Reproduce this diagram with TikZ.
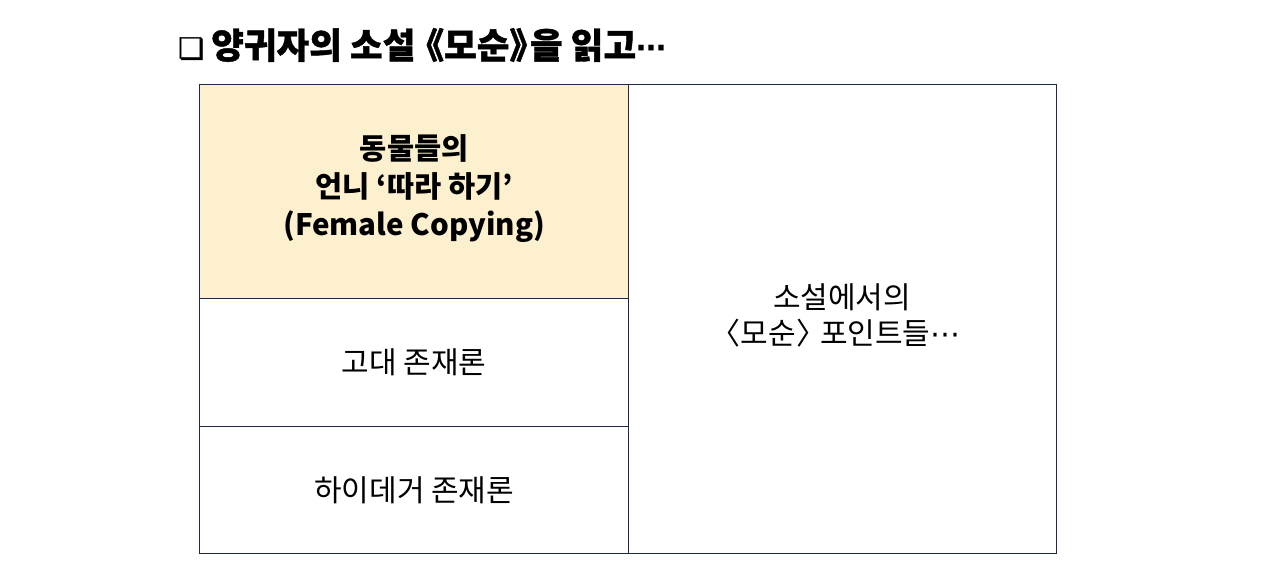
\documentclass[tikz,border=0pt]{standalone}
\usepackage{fontspec}
\usetikzlibrary{calc}
\newfontfamily\kr{Noto Sans CJK KR}
\newfontfamily\krh[BoldFeatures={FakeBold=1.2}]{Noto Sans CJK KR}
\newfontfamily\dv{DejaVu Sans}
\newfontfamily\dvh[FakeBold=1.5]{DejaVu Sans}
\newcommand\lbk{\kern-0.42em}
\definecolor{edge}{HTML}{1F2846}
\definecolor{pale}{HTML}{FCF0CF}
\tikzset{
  cell/.style={draw=edge, line width=1.4pt, minimum width=429pt, inner sep=0pt, anchor=north west},
  body/.style={font=\kr\fontsize{30}{36}\selectfont, align=center, text=black},
  boldbody/.style={font=\kr\bfseries\fontsize{29.5}{38}\selectfont, align=center, text=black},
}
\begin{document}
\begin{tikzpicture}[x=1pt,y=-1pt]
\useasboundingbox (0,0) rectangle (1280,577);
\node[anchor=west, inner sep=0pt] (title) at (178,45) {\dvh\fontsize{29}{29}\selectfont ❏\krh\bfseries\fontsize{35.5}{34}\selectfont\kern-1pt\ 양귀자의 소설 \lbk《모순》\lbk 을 읽고\dv\bfseries\fontsize{30}{30}\selectfont ⋯};
\node[cell, fill=pale, minimum height=214pt] (a) at (199,84) {};
\node[cell, minimum height=128pt] (b) at (199,298) {};
\node[cell, minimum height=127pt] (c) at (199,426) {};
\node[cell, minimum height=469pt, minimum width=428pt] (d) at (628,84) {};
\node[boldbody] (ta) at ($(a.center)+(0,-3)$) {동물들의\\언니 ‘따라 하기’\\(Female Copying)};
\node[body] (tb) at (b.center) {고대 존재론};
\node[body] (tc) at (c.center) {하이데거 존재론};
\node[body] (td) at (842,315) {소설에서의\\\lbk〈모순〉\lbk\ 포인트들{\dv⋯}};
\end{tikzpicture}
\end{document}
